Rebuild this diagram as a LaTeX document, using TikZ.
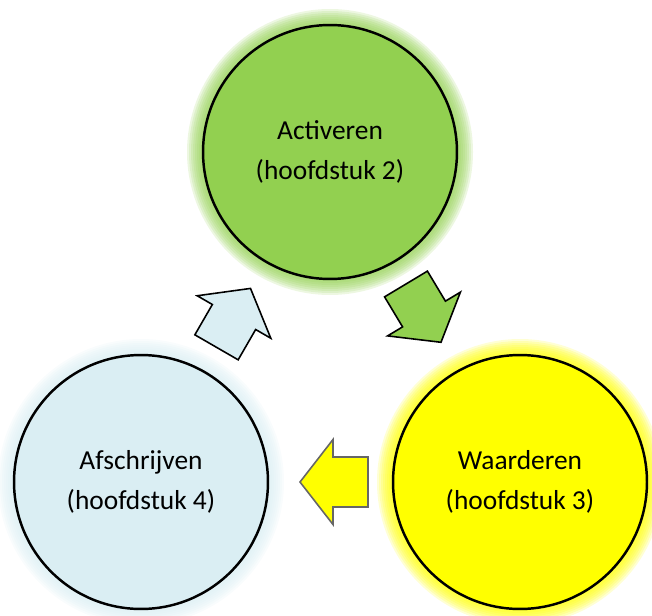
\documentclass[tikz,border=0pt]{standalone}
\usepackage{fontspec}
\setmainfont{Carlito}
\usetikzlibrary{positioning}
\definecolor{ActGreen}{RGB}{146,208,80}
\definecolor{WaardYellow}{RGB}{255,255,0}
\definecolor{AfschrBlue}{RGB}{218,238,243}
\tikzset{
  fase/.style={draw,circle,line width=1.4pt,minimum size=5.08cm,inner sep=0pt,align=center,font=\fontsize{15.6}{23}\selectfont},
  blokpijl/.pic={\draw[pic actions,line width=0.9pt,line join=miter] (-35,-25) -- (0,-25) -- (0,-42.5) -- (33,0) -- (0,42.5) -- (0,25) -- (-35,25) -- cycle;}
}

\begin{document}
\begin{tikzpicture}[x=0.02cm,y=-0.02cm]
\useasboundingbox (0,0) rectangle (652,615);
% gloed rond de fasen
\foreach \kl/\px/\py in {ActGreen/330/152,WaardYellow/520/482,AfschrBlue/141/482}
  \foreach \d in {2,4,...,16}
    \fill[\kl,opacity=0.17] (\px,\py) circle[radius=127+\d];
\node[fase,fill=ActGreen] (act) at (330,152) {Activeren\\(hoofdstuk 2)};
\node[fase,fill=WaardYellow] (waard) at (520,482) {Waarderen\\(hoofdstuk 3)};
\node[fase,fill=AfschrBlue] (afschr) at (141,482) {Afschrijven\\(hoofdstuk 4)};
% pijlen
\pic[fill=ActGreen,draw=black,rotate=-59] at (424,314) {blokpijl};
\pic[fill=WaardYellow,draw=black!60,rotate=180] at (333,482) {blokpijl};
\pic[fill=AfschrBlue,draw=black,rotate=60] at (234,317) {blokpijl};
\end{tikzpicture}
\end{document}
